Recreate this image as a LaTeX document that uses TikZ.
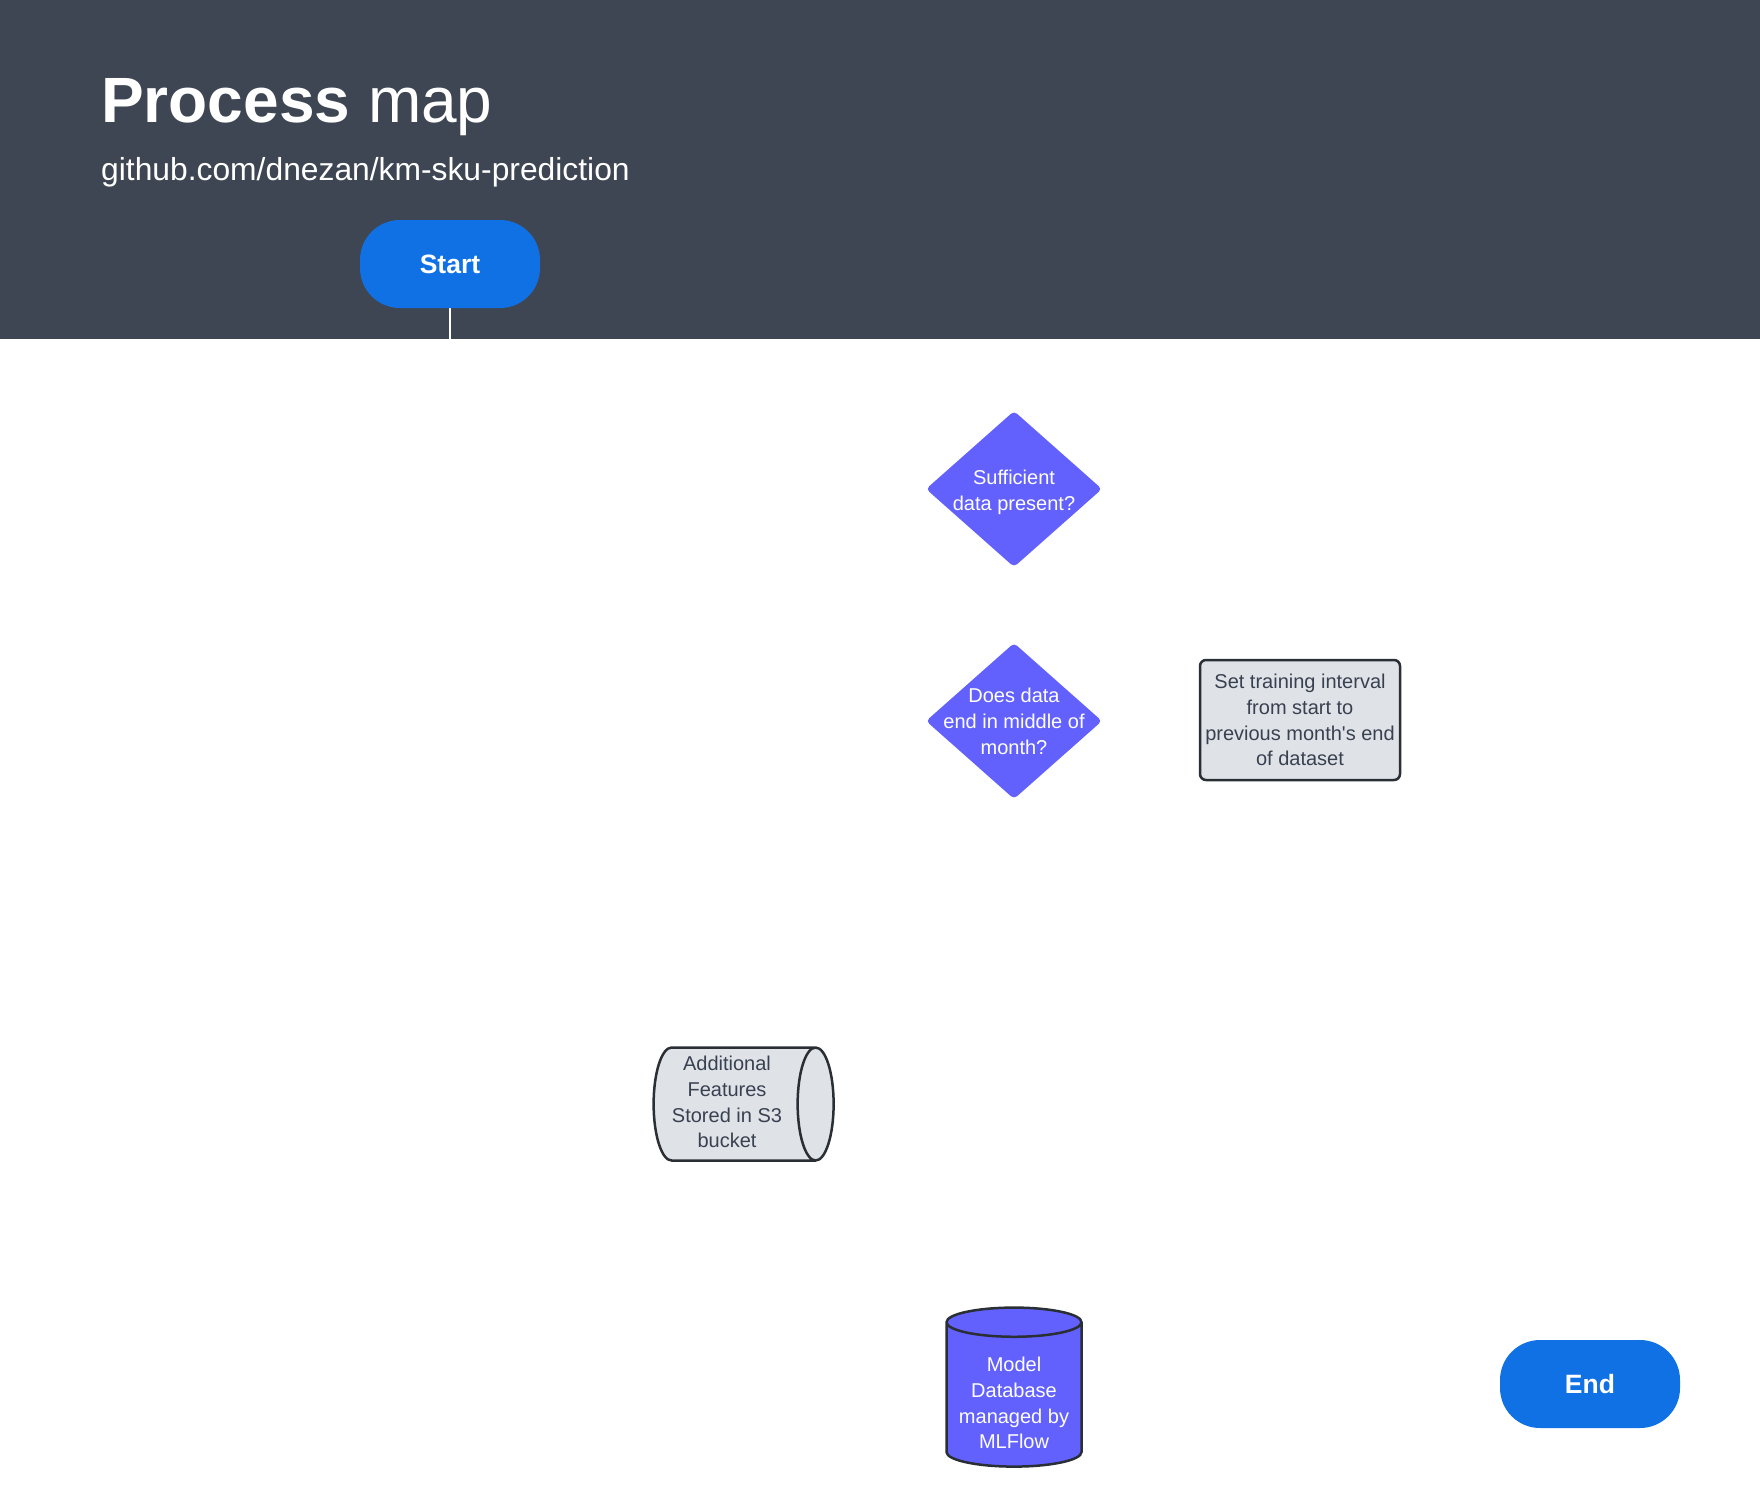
\documentclass[tikz,border=0pt]{standalone}
\usepackage{fontspec}
\setmainfont{Liberation Sans}
\usetikzlibrary{shapes.geometric}
\definecolor{headgray}{HTML}{3E4653}
\definecolor{termblue}{HTML}{1071E5}
\definecolor{decviolet}{HTML}{6361FE}
\definecolor{boxgray}{HTML}{DFE3E8}
\definecolor{inkgray}{HTML}{394150}
\definecolor{edgegray}{HTML}{2A2F36}
\tikzset{
  terminal/.style={fill=termblue, text=white, minimum width=180pt, minimum height=88pt,
    rounded corners=40pt, font=\fontsize{26.5}{30}\selectfont\bfseries},
  decision/.style={diamond, fill=decviolet, minimum width=176pt, minimum height=156pt,
    inner sep=0pt, rounded corners=4pt},
  dtext/.style={text=white, align=center, font=\fontsize{20}{26}\selectfont},
  process/.style={draw=edgegray, line width=2.5pt, fill=boxgray, rounded corners=6pt,
    minimum width=200pt, minimum height=120pt, inner sep=0pt, text=inkgray,
    align=center, font=\fontsize{20}{25.7}\selectfont},
  store/.style={cylinder, draw=edgegray, line width=2.5pt, inner sep=0pt,
    align=center, font=\fontsize{20}{25.7}\selectfont}
}
\begin{document}
\begin{tikzpicture}[x=1pt, y=-1pt]
    \useasboundingbox (0,0) rectangle (1760,1509);
    \fill[headgray] (0,0) rectangle (1760,339);
    \node[anchor=base west, inner sep=0pt, text=white, font=\fontsize{64}{70}\selectfont] (title) at (101,123) {\textbf{Process} map};
    \node[anchor=base west, inner sep=0pt, text=white, font=\fontsize{31.8}{36}\selectfont] (repo) at (101,180) {github.com/dnezan/km-sku-prediction};
    % start and its stub
    \coordinate (cut) at (450,339);
    \draw[white, line width=2pt] (450,308) -- (cut);
    \node[terminal] (start) at (450,264) {Start};
    % decisions
    \node[decision, label={[dtext, yshift=-3pt]center:Sufficient\\data present?}] (suff) at (1014,489) {};
    \node[decision, label={[dtext]center:Does data\\end in middle of\\month?}] (midmonth) at (1014,721) {};
    \node[process] (interval) at (1300,720) {Set training interval\\from start to\\previous month\textquotesingle s end\\of dataset};
    % storage
    \node[store, fill=boxgray, text=inkgray, minimum width=113pt, minimum height=180pt, aspect=0.35] (features) at (734,1104)
      {\begin{tabular}{@{}c@{}}Additional\\Features\\Stored in S3\\bucket\end{tabular}\hspace*{14pt}};
    \node[store, fill=decviolet, text=white, shape border rotate=90, minimum width=135pt, minimum height=159pt, aspect=0.265] (modeldb) at (1014,1395) {\rule{0pt}{31pt}Model\\Database\\managed by\\MLFlow};
    \node[terminal] (end) at (1590,1384) {End};
\end{tikzpicture}
\end{document}
